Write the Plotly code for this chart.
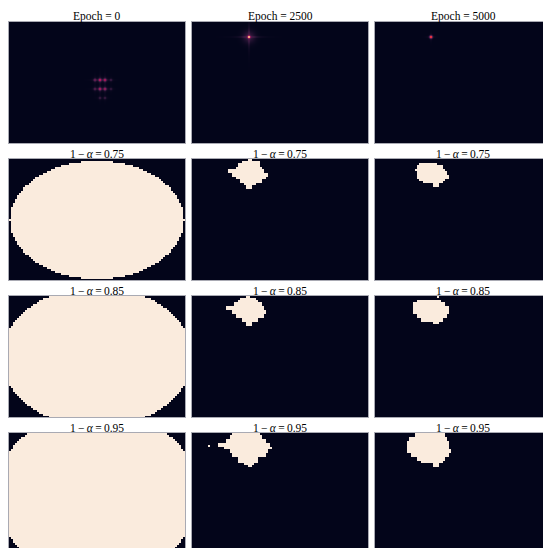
import numpy as np
import plotly.graph_objects as go

# ---------------- data ----------------
EPOCHS = [0, 2500, 5000]
COVERAGE = [0.75, 0.85, 0.95]

PANEL_W, PANEL_H = 176, 121           # full panel size in pixels (panel units)
COL_LEFT = [9, 192, 375]              # page x of panel left edge
ROW_TOP = [22, 159, 296, 433]         # page y of panel top edge

# Row 1: bright spots (panel units x, y, intensity 0..1)
SPOTS_E0_X = [86, 91, 96, 86, 91, 96, 91, 96, 102, 102]
SPOTS_E0_Y = [58, 58, 58, 67, 67, 67, 76, 76, 58, 67]
SPOTS_E0_I = [0.18, 0.40, 0.36, 0.12, 0.34, 0.30, 0.07, 0.07, 0.07, 0.06]
SPOTS_E2500_X = [57]
SPOTS_E2500_Y = [15]
SPOTS_E2500_I = [0.85]
SPOTS_E5000_X = [56]
SPOTS_E5000_Y = [15]
SPOTS_E5000_I = [0.60]
SPOT_GLOW = [3.0, 7.0, 2.0]

# Column 1 (epoch 0): elliptical prediction regions, per coverage level
ELLIPSE_CX = [88, 88, 88]
ELLIPSE_CY = [61, 61, 61]
ELLIPSE_A = [87, 95, 102]
ELLIPSE_B = [59, 70, 83]

# Columns 2-3: blob outlines as (y0, y1, x_left, x_right) bands in panel units
B2500_075 = [(0, 3, 56, 59), (3, 5, 50, 68), (5, 8, 47, 67), (8, 11, 44, 70),
             (11, 15, 36, 72), (15, 18, 41, 75), (18, 21, 45, 73), (21, 24, 49, 69),
             (24, 27, 52, 63), (27, 30, 55, 59)]
B2500_085 = [(0, 2, 55, 58), (2, 4, 49, 63), (4, 7, 46, 66), (7, 11, 42, 70),
             (11, 15, 34, 72), (15, 19, 40, 74), (19, 23, 45, 72), (23, 27, 50, 66),
             (27, 31, 54, 60)]
B2500_095 = [(0, 2, 41, 67), (2, 6, 39, 69), (6, 10, 35, 73), (10, 14, 26, 78),
             (14, 17, 33, 79), (17, 21, 38, 76), (21, 25, 41, 73), (25, 30, 46, 66),
             (30, 33, 52, 61), (33, 35, 56, 59), (13, 15, 16, 18)]
B5000_075 = [(4, 7, 44, 62), (7, 10, 42, 67), (10, 13, 41, 70), (13, 17, 42, 72),
             (17, 20, 42, 73), (20, 23, 44, 70), (23, 25, 48, 67), (25, 28, 58, 64)]
B5000_085 = [(1, 3, 62, 64), (5, 7, 43, 65), (7, 11, 39, 70), (11, 15, 38, 73),
             (15, 19, 39, 74), (19, 23, 42, 72), (23, 26, 47, 68), (26, 29, 58, 64)]
B5000_095 = [(0, 4, 40, 70), (4, 8, 35, 72), (8, 12, 33, 73), (12, 17, 32, 74),
             (17, 21, 33, 75), (21, 25, 37, 73), (25, 29, 42, 70), (29, 31, 47, 67),
             (31, 34, 58, 63)]

ROCKET = [[0.0, "#03051A"], [0.083, "#35193E"], [0.25, "#701F57"], [0.417, "#AD1759"],
          [0.583, "#E13342"], [0.75, "#F37651"], [0.917, "#F6B48F"], [1.0, "#FAEBDD"]]

W, H = 543, 548

# ---------------- build grids ----------------
fx = np.arange(PANEL_W) + 0.5
fy = np.arange(PANEL_H) + 0.5
cx2 = np.arange(0, PANEL_W, 2) + 1.0
cy2 = np.arange(0, PANEL_H + 1, 2) + 1.0


def spot_image(xs, ys, its, glow):
    X, Y = np.meshgrid(fx, fy)
    z = np.zeros_like(X)
    for x0, y0, i0 in zip(xs, ys, its):
        dx, dy = X - x0, Y - y0
        core = np.exp(-(dx ** 2 + dy ** 2) / (2 * 0.9 ** 2))
        cross = (np.exp(-dx ** 2 / 0.8) * np.exp(-np.abs(dy) / glow)
                 + np.exp(-dy ** 2 / 0.8) * np.exp(-np.abs(dx) / glow))
        halo = np.exp(-(dx ** 2 + dy ** 2) / (2 * (glow * 0.6) ** 2))
        z = z + i0 * (core + 0.14 * cross + 0.10 * halo)
    return np.clip(z, 0, 1)


def ellipse_mask(k):
    X, Y = np.meshgrid(cx2, cy2)
    return (((X - ELLIPSE_CX[k]) / ELLIPSE_A[k]) ** 2
            + ((Y - ELLIPSE_CY[k]) / ELLIPSE_B[k]) ** 2 <= 1).astype(float)


def blob_mask(bands):
    X, Y = np.meshgrid(cx2, cy2)
    z = np.zeros_like(X)
    for y0, y1, xl, xr in bands:
        z[(Y >= y0) & (Y < y1) & (X >= xl) & (X <= xr)] = 1.0
    return z


panels = {}
panels[(0, 0)] = (fx, fy, spot_image(SPOTS_E0_X, SPOTS_E0_Y, SPOTS_E0_I, SPOT_GLOW[0]))
panels[(0, 1)] = (fx, fy, spot_image(SPOTS_E2500_X, SPOTS_E2500_Y, SPOTS_E2500_I, SPOT_GLOW[1]))
panels[(0, 2)] = (fx, fy, spot_image(SPOTS_E5000_X, SPOTS_E5000_Y, SPOTS_E5000_I, SPOT_GLOW[2]))
blobs = [[B2500_075, B5000_075], [B2500_085, B5000_085], [B2500_095, B5000_095]]
for k in range(3):
    panels[(k + 1, 0)] = (cx2, cy2, ellipse_mask(k))
    panels[(k + 1, 1)] = (cx2, cy2, blob_mask(blobs[k][0]))
    panels[(k + 1, 2)] = (cx2, cy2, blob_mask(blobs[k][1]))

# ---------------- figure ----------------
fig = go.Figure()
layout = dict(width=W, height=H, margin=dict(l=0, r=0, t=0, b=0),
              paper_bgcolor="white", plot_bgcolor="white", showlegend=False,
              font=dict(family="Liberation Serif, Times New Roman, serif", size=11, color="black"))
annotations = []
idx = 0
TS = "\u2009"
for r in range(4):
    for c in range(3):
        idx += 1
        xs, ys, z = panels[(r, c)]
        sfx = "" if idx == 1 else str(idx)
        fig.add_trace(go.Heatmap(x=xs, y=ys, z=z, colorscale=ROCKET, zmin=0, zmax=1,
                                 showscale=False, hoverinfo="skip",
                                 xaxis="x" + sfx, yaxis="y" + sfx))
        left = COL_LEFT[c]
        right = min(left + PANEL_W, W)
        top = ROW_TOP[r]
        bottom = min(top + PANEL_H, H)
        ax = dict(domain=[left / W, right / W], range=[0, right - left],
                  showgrid=False, zeroline=False, showticklabels=False, ticks="",
                  showline=True, mirror=True, linecolor="#a9aab3", linewidth=1,
                  anchor="y" + sfx)
        ay = dict(domain=[1 - bottom / H, 1 - top / H], range=[bottom - top, 0],
                  showgrid=False, zeroline=False, showticklabels=False, ticks="",
                  showline=True, mirror=True, linecolor="#a9aab3", linewidth=1,
                  anchor="x" + sfx)
        layout["xaxis" + sfx] = ax
        layout["yaxis" + sfx] = ay
        if r == 0:
            txt = f"Epoch = {EPOCHS[c]}"
        else:
            txt = f"1{TS}\u2212{TS}<i>\u03b1</i>{TS}={TS}{COVERAGE[r - 1]:.2f}"
        annotations.append(dict(text=txt, xref="paper", yref="paper",
                                x=(left + PANEL_W / 2) / W, y=1 - top / H,
                                xanchor="center", yanchor="bottom", showarrow=False,
                                yshift=-3, font=dict(size=11.5)))
layout["annotations"] = annotations
fig.update_layout(**layout)
fig.write_html("out.html", config={"displayModeBar": False},
               post_script="document.body.style.margin='0';document.body.style.overflow='hidden';")
